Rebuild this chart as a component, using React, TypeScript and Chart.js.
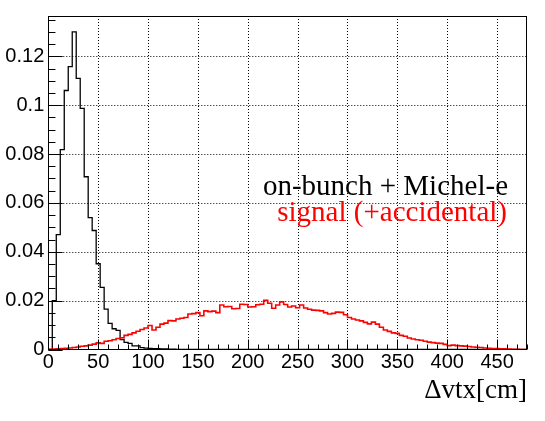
import { useEffect, useRef } from "react";
import { Chart, registerables } from "chart.js";

Chart.register(...registerables);

// ---- data ----
const X_MIN = 0;
const X_MAX = 480;
const BIN_WIDTH = 4;
const Y_MIN = 0;
const Y_MAX = 0.1365;

const X_TICKS = [0, 50, 100, 150, 200, 250, 300, 350, 400, 450];
const Y_TICKS = [0, 0.02, 0.04, 0.06, 0.08, 0.1, 0.12];
const X_MINOR_STEP = 10;
const Y_MINOR_STEP = 0.005;

const X_TITLE = "\u0394vtx[cm]";
const SERIES_LABELS = ["on-bunch + Michel-e", "signal (+accidental)"];

const onBunchMichel = [
  0, 0.02, 0.047, 0.0818, 0.106, 0.1158, 0.13, 0.111, 0.0987, 0.0707,
  0.054, 0.0487, 0.0351, 0.0254, 0.0165, 0.0107, 0.0085, 0.0078, 0.0041, 0.0029,
  0.0025, 0.0015, 0.0015, 0.0008, 0.0006, 0.0004, 0.0003, 0.0003, 0.0002, 0.0002,
  0.0001, 0.0001, 0, 0, 0, 0, 0, 0, 0, 0,
  0, 0, 0, 0, 0, 0, 0, 0, 0, 0,
  0, 0, 0, 0, 0, 0, 0, 0, 0, 0,
  0, 0, 0, 0, 0, 0, 0, 0, 0, 0,
  0, 0, 0, 0, 0, 0, 0, 0, 0, 0,
  0, 0, 0, 0, 0, 0, 0, 0, 0, 0,
  0, 0, 0, 0, 0, 0, 0, 0, 0, 0,
  0, 0, 0, 0, 0, 0, 0, 0, 0, 0,
  0, 0, 0, 0, 0, 0, 0, 0, 0, 0,
];

const signalAccidental = [
  0.0001, 0.0002, 0.0003, 0.0004, 0.0005, 0.0006, 0.0008, 0.001, 0.0013, 0.0015,
  0.0018, 0.0022, 0.0027, 0.0025, 0.0034, 0.0036, 0.004, 0.0045, 0.0048, 0.0058,
  0.0062, 0.0068, 0.0075, 0.0082, 0.0088, 0.0098, 0.008, 0.0091, 0.0104, 0.0108,
  0.0118, 0.0117, 0.0125, 0.0128, 0.0131, 0.0145, 0.0147, 0.0151, 0.0138, 0.0158,
  0.0155, 0.0157, 0.0151, 0.0182, 0.0175, 0.0176, 0.0167, 0.0168, 0.0185, 0.0184,
  0.0174, 0.0175, 0.0183, 0.0185, 0.0201, 0.0189, 0.0169, 0.0182, 0.0195, 0.0184,
  0.0174, 0.0178, 0.0171, 0.0182, 0.017, 0.0165, 0.0161, 0.016, 0.0158, 0.0151,
  0.0145, 0.0148, 0.0153, 0.0152, 0.0142, 0.0131, 0.0125, 0.0121, 0.0117, 0.0111,
  0.0105, 0.0112, 0.0104, 0.0091, 0.008, 0.0074, 0.0068, 0.0066, 0.0058, 0.0054,
  0.0047, 0.0043, 0.004, 0.0038, 0.0034, 0.003, 0.0028, 0.0026, 0.0025, 0.0021,
  0.0016, 0.0018, 0.0016, 0.0015, 0.0014, 0.0012, 0.001, 0.0009, 0.0008, 0.0006,
  0.0005, 0.0004, 0.0004, 0.0003, 0.0003, 0.0002, 0.0001, 0.0001, 0, 0,
];

const BLACK = "#000000";
const RED = "#ff0000";
const SANS = "'Liberation Sans', Arial, Helvetica, sans-serif";
const SERIF = "'Liberation Serif', 'Times New Roman', Times, serif";

function toSteps(values: number[]) {
  const pts = [{ x: X_MIN, y: 0 }];
  values.forEach((v, i) => pts.push({ x: X_MIN + i * BIN_WIDTH, y: v }));
  pts.push({ x: X_MIN + values.length * BIN_WIDTH, y: values[values.length - 1] });
  return pts;
}

const rootStyle = {
  id: "rootStyle",
  beforeDatasetsDraw(chart: any) {
    const { ctx, chartArea: a, scales } = chart;
    const x = scales.x;
    const y = scales.y;
    ctx.save();
    ctx.strokeStyle = BLACK;
    ctx.lineWidth = 1;
    ctx.setLineDash([1, 2]);
    ctx.beginPath();
    for (const v of X_TICKS) {
      if (v === X_MIN) continue;
      const px = Math.round(x.getPixelForValue(v)) + 0.5;
      ctx.moveTo(px, a.top);
      ctx.lineTo(px, a.bottom);
    }
    for (const v of Y_TICKS) {
      if (v === Y_MIN) continue;
      const py = Math.round(y.getPixelForValue(v)) + 0.5;
      ctx.moveTo(a.left, py);
      ctx.lineTo(a.right, py);
    }
    ctx.stroke();
    ctx.restore();
  },
  afterDatasetsDraw(chart: any) {
    const { ctx, chartArea: a, scales } = chart;
    const x = scales.x;
    const y = scales.y;
    const w = a.right - a.left;
    const h = a.bottom - a.top;
    const xMajor = 0.03 * h;
    const yMajor = 0.03 * w;
    ctx.save();
    ctx.strokeStyle = BLACK;
    ctx.lineWidth = 1;
    ctx.setLineDash([]);
    ctx.beginPath();
    for (let v = X_MIN; v <= X_MAX + 1e-9; v += X_MINOR_STEP) {
      const px = Math.round(x.getPixelForValue(v)) + 0.5;
      const major = X_TICKS.includes(v);
      const len = major ? xMajor : xMajor / 2;
      ctx.moveTo(px, a.bottom);
      ctx.lineTo(px, a.bottom - len);
    }
    for (let k = 0; Y_MIN + k * Y_MINOR_STEP <= Y_MAX + 1e-9; k++) {
      const v = Y_MIN + k * Y_MINOR_STEP;
      const py = Math.round(y.getPixelForValue(v)) + 0.5;
      const major = k % 4 === 0;
      const len = major ? yMajor : yMajor / 2;
      ctx.moveTo(a.left, py);
      ctx.lineTo(a.left + len, py);
    }
    ctx.stroke();
    const l = Math.round(a.left) + 0.5;
    const r = Math.round(a.right) - 0.5;
    const t = Math.round(a.top) + 0.5;
    const b = Math.round(a.bottom) - 0.5;
    ctx.strokeRect(l, t, r - l, b - t);
    ctx.restore();
  },
  afterDraw(chart: any) {
    const { ctx, chartArea: a } = chart;
    ctx.save();
    ctx.textAlign = "right";
    ctx.textBaseline = "alphabetic";
    ctx.font = `29px ${SERIF}`;
    ctx.fillStyle = BLACK;
    ctx.fillText(SERIES_LABELS[0], 508, 195);
    ctx.fillStyle = RED;
    ctx.fillText(SERIES_LABELS[1], 507, 221);
    ctx.fillStyle = BLACK;
    ctx.font = `27px ${SERIF}`;
    ctx.fillText(X_TITLE, a.right, 398);
    ctx.restore();
  },
};

export default function App() {
  const ref = useRef<HTMLCanvasElement | null>(null);
  useEffect(() => {
    document.body.style.margin = "0";
    const canvas = ref.current;
    if (!canvas) return;
    const chart = new Chart(canvas, {
      type: "line",
      data: {
        datasets: [
          {
            label: SERIES_LABELS[1],
            data: toSteps(signalAccidental),
            borderColor: RED,
            borderWidth: 1.6,
            stepped: "before",
            pointRadius: 0,
            fill: false,
          },
          {
            label: SERIES_LABELS[0],
            data: toSteps(onBunchMichel),
            borderColor: BLACK,
            borderWidth: 1.3,
            stepped: "before",
            pointRadius: 0,
            fill: false,
          },
        ],
      },
      options: {
        responsive: false,
        animation: false,
        devicePixelRatio: 1,
        layout: { padding: { left: 0, right: 18, top: 8, bottom: 0 } },
        plugins: { legend: { display: false }, tooltip: { enabled: false } },
        scales: {
          x: {
            type: "linear",
            min: X_MIN,
            max: X_MAX,
            afterBuildTicks: (s: any) => {
              s.ticks = X_TICKS.map((v) => ({ value: v }));
            },
            afterFit: (s: any) => {
              s.height = 71.5;
            },
            grid: { display: false, drawTicks: false },
            border: { display: false },
            ticks: {
              autoSkip: false,
              maxRotation: 0,
              padding: 1,
              color: BLACK,
              font: { family: SANS, size: 20 },
              callback: (v: any) => String(v),
            },
          },
          y: {
            type: "linear",
            min: Y_MIN,
            max: Y_MAX,
            afterBuildTicks: (s: any) => {
              s.ticks = Y_TICKS.map((v) => ({ value: v }));
            },
            afterFit: (s: any) => {
              s.width = 48.3;
            },
            grid: { display: false, drawTicks: false },
            border: { display: false },
            ticks: {
              autoSkip: false,
              padding: 4,
              color: BLACK,
              font: { family: SANS, size: 20 },
              callback: (v: any) => String(Number(Number(v).toFixed(4))),
            },
          },
        },
      },
      plugins: [rootStyle],
    });
    return () => chart.destroy();
  }, []);
  return (
    <div style={{ position: "absolute", left: 0, top: 0, width: 545, height: 421, background: "#fff" }}>
      <canvas ref={ref} width={545} height={421} style={{ display: "block" }} />
    </div>
  );
}
